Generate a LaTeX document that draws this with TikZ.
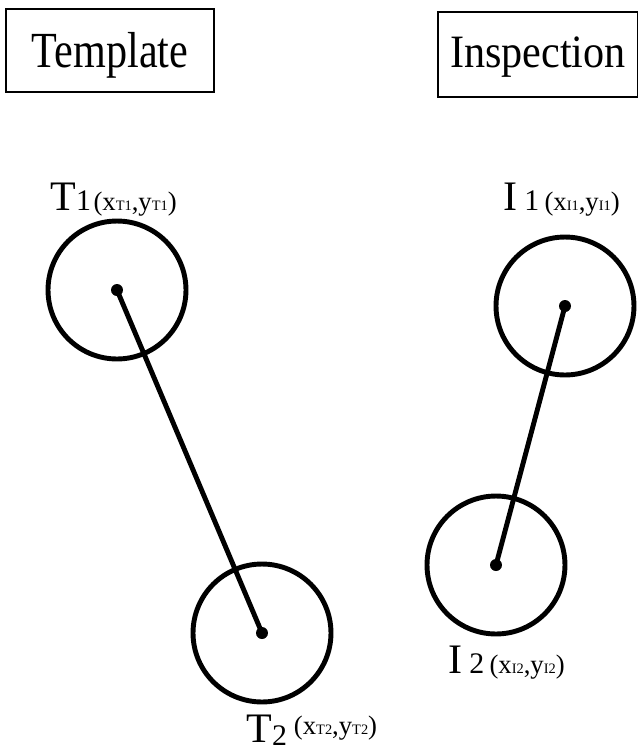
\documentclass[tikz,border=0pt]{standalone}
\usepackage{fontspec}
\setmainfont{Liberation Serif}
\newcommand{\pname}[1]{{\fontsize{23.9pt}{24pt}\selectfont #1}}
\newcommand{\pidx}[1]{{\fontsize{17pt}{17pt}\selectfont #1}}
\newcommand{\psub}[1]{{\fontsize{8.2pt}{8pt}\selectfont #1}}
\newcommand{\pxy}[1]{{\fontsize{15.2pt}{15pt}\selectfont (x\psub{#1},y\psub{#1})}}

\begin{document}
\begin{tikzpicture}[x=0.02cm,y=-0.02cm]
\tikzstyle{title}=[draw,line width=.6pt,minimum height=1.66cm,inner sep=0pt,text depth=0.22cm,font=\fontsize{24pt}{24pt}\selectfont]
\tikzstyle{ring}=[circle,draw,line width=2.8pt,minimum size=2.76cm,inner sep=0pt]
\tikzstyle{pin}=[circle,fill,inner sep=0pt,minimum size=0.24cm]
\tikzstyle{tag}=[anchor=base west,inner sep=0pt]
\useasboundingbox (0,0) rectangle (638,752);
% headings
\node[title,minimum width=4.16cm,text height=0.88cm] (tmpl) at (110,50.5) {\scalebox{1}[1.2]{Template}};
\node[title,minimum width=4cm,minimum height=1.7cm,text height=0.72cm] (insp) at (538,54.5) {\scalebox{1}[1.1]{Inspection}};
% points
\node[ring] (t1) at (117,290) {};
\node[ring] (t2) at (262,633) {};
\node[ring] (i1) at (565,306) {};
\node[ring] (i2) at (496,565) {};
\foreach \p in {t1,t2,i1,i2}{\node[pin] (\p c) at (\p) {};}
\draw[line width=2.8pt] (t1c.center) -- (t2c.center);
\draw[line width=2.8pt] (i1c.center) -- (i2c.center);
% labels
\node[tag] (t1lbl) at (50,210) {\pname{T}\pidx{1}\hspace{1.5pt}\pxy{T1}};
\node[tag] (i1lbl) at (503,210) {\pname{I}\hspace{4pt}\pidx{1}\hspace{3pt}\pxy{I1}};
\node[tag] (t2lbl) at (246,742) {\pname{T}\raisebox{-2pt}{\pidx{2}}\hspace{4pt}\raisebox{4pt}{\pxy{T2}}};
\node[tag] (i2lbl) at (448,673) {\pname{I}\hspace{4pt}\pidx{2}\hspace{3pt}\pxy{I2}};
\end{tikzpicture}
\end{document}
